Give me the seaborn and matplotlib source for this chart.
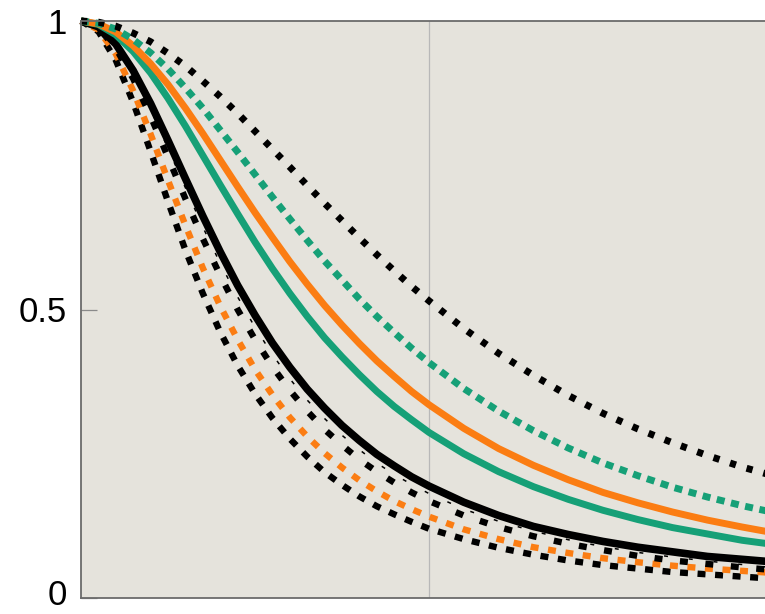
import numpy as np
import pandas as pd
import seaborn as sns
import matplotlib.pyplot as plt
import matplotlib.transforms as mtransforms

# x positions (axis runs 0..2, only ~1.97 visible)
x_vals = [0, 0.05, 0.1, 0.15, 0.2, 0.25, 0.3, 0.35, 0.4, 0.45, 0.5,
          0.55, 0.6, 0.65, 0.7, 0.75, 0.8, 0.85, 0.9, 0.95, 1.0,
          1.1, 1.2, 1.3, 1.4, 1.5, 1.6, 1.7, 1.8, 1.9, 2.0]

# curves, top to bottom
black_dotted = [1.000, 0.998, 0.991, 0.979, 0.964, 0.944, 0.922, 0.896, 0.869, 0.840, 0.809,
                0.778, 0.747, 0.715, 0.684, 0.654, 0.624, 0.595, 0.567, 0.540, 0.515,
                0.467, 0.424, 0.386, 0.351, 0.320, 0.293, 0.269, 0.247, 0.227, 0.210]
green_dashed = [1.000, 0.996, 0.986, 0.968, 0.945, 0.917, 0.884, 0.849, 0.811, 0.773, 0.734,
                0.695, 0.657, 0.620, 0.584, 0.551, 0.518, 0.488, 0.460, 0.433, 0.408,
                0.363, 0.324, 0.290, 0.260, 0.234, 0.212, 0.192, 0.175, 0.160, 0.147]
orange_solid = [1.000, 0.995, 0.981, 0.957, 0.926, 0.890, 0.849, 0.805, 0.759, 0.713, 0.668,
                0.625, 0.583, 0.544, 0.507, 0.473, 0.441, 0.411, 0.384, 0.358, 0.335,
                0.294, 0.259, 0.230, 0.205, 0.183, 0.165, 0.149, 0.135, 0.123, 0.112]
green_solid = [1.000, 0.994, 0.976, 0.947, 0.910, 0.866, 0.818, 0.767, 0.716, 0.666, 0.617,
               0.571, 0.528, 0.488, 0.451, 0.418, 0.387, 0.358, 0.332, 0.309, 0.287,
               0.250, 0.219, 0.193, 0.171, 0.152, 0.136, 0.122, 0.111, 0.100, 0.092]
black_solid = [1.000, 0.990, 0.960, 0.914, 0.857, 0.793, 0.727, 0.662, 0.600, 0.542, 0.490,
               0.442, 0.400, 0.362, 0.329, 0.299, 0.273, 0.249, 0.229, 0.210, 0.194,
               0.166, 0.143, 0.124, 0.110, 0.098, 0.088, 0.080, 0.072, 0.067, 0.062]
black_dashdot = [1.000, 0.989, 0.957, 0.908, 0.847, 0.779, 0.711, 0.643, 0.580, 0.522, 0.469,
                 0.422, 0.380, 0.343, 0.311, 0.282, 0.257, 0.234, 0.214, 0.197, 0.181,
                 0.154, 0.133, 0.116, 0.101, 0.089, 0.079, 0.071, 0.064, 0.058, 0.052]
black_dashed_in = [1.000, 0.988, 0.953, 0.900, 0.835, 0.764, 0.692, 0.623, 0.559, 0.500, 0.448,
                   0.401, 0.360, 0.324, 0.292, 0.265, 0.240, 0.219, 0.200, 0.183, 0.168,
                   0.143, 0.123, 0.107, 0.094, 0.083, 0.073, 0.065, 0.059, 0.053, 0.048]
orange_dashed = [1.000, 0.985, 0.943, 0.879, 0.804, 0.724, 0.646, 0.572, 0.506, 0.448, 0.396,
                 0.352, 0.313, 0.280, 0.251, 0.226, 0.204, 0.185, 0.168, 0.154, 0.141,
                 0.119, 0.102, 0.088, 0.078, 0.069, 0.062, 0.056, 0.051, 0.047, 0.043]
black_dashed_out = [1.000, 0.982, 0.932, 0.859, 0.774, 0.687, 0.603, 0.528, 0.461, 0.403, 0.354,
                    0.312, 0.276, 0.245, 0.218, 0.196, 0.176, 0.159, 0.145, 0.132, 0.120,
                    0.102, 0.087, 0.075, 0.065, 0.057, 0.051, 0.045, 0.041, 0.037, 0.033]

y_ticks = [0, 0.5, 1]
y_tick_labels = ['0', '0.5', '1']

green = '#16a077'
orange = '#fb7d13'

sns.set_theme(style='white')
plt.rcParams['font.family'] = ['Liberation Sans', 'DejaVu Sans']

fig = plt.figure(figsize=(7.65, 6.14), dpi=100)
ax = fig.add_axes([81 / 765, 16 / 614, 696 / 765, 577 / 614])
ax.set_facecolor('#e5e3dc')

# (values, colour, linewidth, linestyle) - drawn back to front
curves = [
    (black_dashed_out, 'black', 4.6, (0, (1.25, 1.5))),
    (orange_dashed, orange, 4.6, (0.8, (1.25, 1.5))),
    (black_dashed_in, 'black', 4.6, (0, (1.25, 2.75))),
    (black_dashdot, 'black', 1.1, (0, (2.6, 13.7))),
    (black_solid, 'black', 5.5, '-'),
    (green_solid, green, 5.0, '-'),
    (orange_solid, orange, 5.0, '-'),
    (green_dashed, green, 5.0, (0, (1.15, 0.95))),
    (black_dotted, 'black', 5.0, (0, (0.9, 1.6))),
]
for vals, col, lw, ls in curves:
    sns.lineplot(x=x_vals, y=vals, ax=ax, color=col, lw=lw, linestyle=ls,
                 dash_capstyle='butt', solid_capstyle='butt', clip_on=False)

ax.set_xlim(0, 2)
ax.set_ylim(0, 1)
ax.set_xlabel('')
ax.set_ylabel('')

ax.set_xticks([1])
ax.xaxis.grid(True, color='#b8b8b8', lw=0.9)
ax.yaxis.grid(False)
ax.set_axisbelow(True)
ax.tick_params(axis='x', length=0, labelbottom=False)

ax.set_yticks(y_ticks)
ax.set_yticklabels(y_tick_labels)
ax.tick_params(axis='y', direction='in', length=11.5, width=0.9, color='#8a8a8a',
               pad=10, labelsize=25, labelcolor='black', left=True, right=False)

# nudge the "0" label up a little so it stays inside the picture
zero_lbl = ax.yaxis.get_major_ticks()[0].label1
zero_lbl.set_transform(zero_lbl.get_transform() +
                       mtransforms.ScaledTranslation(0, 4 / 72, fig.dpi_scale_trans))

for side in ['left', 'top', 'bottom', 'right']:
    ax.spines[side].set_color('#6b6b6b')
    ax.spines[side].set_linewidth(1.3)

fig.savefig('out.png', dpi=100)
